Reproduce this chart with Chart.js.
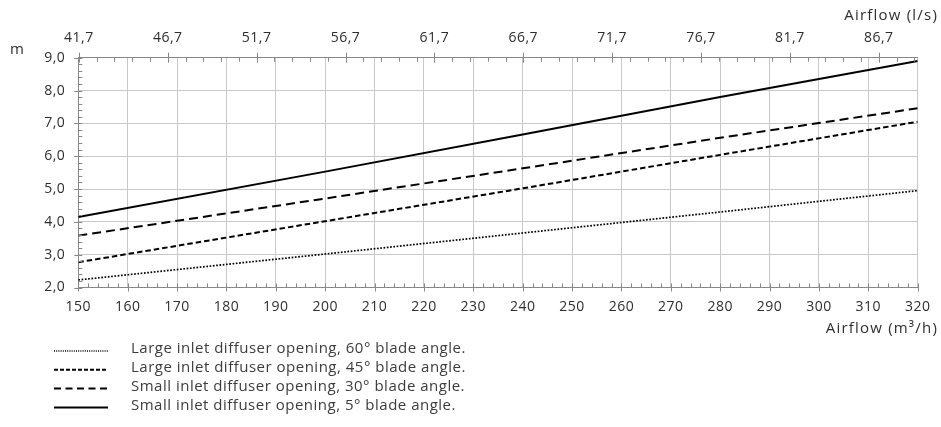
<!DOCTYPE html>
<html>
<head>
<meta charset="utf-8">
<title>Throw vs airflow</title>
<script src="https://cdn.jsdelivr.net/npm/chart.js@4.4.1/dist/chart.umd.min.js"></script>
<style>
  html, body { margin: 0; padding: 0; background: #ffffff; }
  #wrap { position: relative; width: 941px; height: 427px; }
</style>
</head>
<body>
<div id="wrap"><canvas id="c" width="941" height="427"></canvas></div>
<script>
// Airflow in m³/h (bottom axis) at which each curve is sampled
const airflowM3h = [150, 200, 240, 280, 320];

// Throw (m) for each diffuser setting
const large60 = [2.23, 3.02, 3.66, 4.30, 4.95];
const large45 = [2.77, 4.02, 5.02, 6.04, 7.05];
const small30 = [3.58, 4.71, 5.63, 6.56, 7.46];
const small5  = [4.15, 5.53, 6.66, 7.80, 8.90];

// Series names
const seriesNames = [
  'Large inlet diffuser opening, 60° blade angle.',
  'Large inlet diffuser opening, 45° blade angle.',
  'Small inlet diffuser opening, 30° blade angle.',
  'Small inlet diffuser opening, 5° blade angle.'
];

// Top axis tick labels (l/s)
const airflowLsTicks = [41.7, 46.7, 51.7, 56.7, 61.7, 66.7, 71.7, 76.7, 81.7, 86.7];

// Axis titles
const yTitle = 'm';
const topTitle = 'Airflow (l/s)';
const bottomTitle = 'Airflow (m³/h)';

const FONT = '"Open Sans", "DejaVu Sans", sans-serif';
const TEXT = '#2e2e2e';
const GRID = '#c8c8c8';
const AXIS = '#888888';

const toPoints = ys => airflowM3h.map((x, i) => ({ x: x, y: ys[i] }));

const styles = [
  { width: 1.7, dash: [1.7, 1.6], legendDash: [1, 1.2] },
  { width: 2,   dash: [5.5, 3],   legendDash: [4, 2] },
  { width: 2,   dash: [9, 5],     legendDash: [7, 4.5] },
  { width: 2,   dash: [],         legendDash: [] }
];

const seriesData = [large60, large45, small30, small5];

const datasets = seriesData.map((ys, i) => ({
  label: seriesNames[i],
  data: toPoints(ys),
  borderColor: '#000000',
  borderWidth: styles[i].width,
  borderDash: styles[i].dash,
  pointRadius: 0,
  tension: 0,
  fill: false
}));

const fmtComma = (v, d) => v.toFixed(d).replace('.', ',');

// Slightly tracked lettering for the tick labels
const tracking = {
  id: 'tracking',
  beforeDraw(chart) { chart.ctx.letterSpacing = '0.5px'; }
};

// Minor/major tick marks, axis titles and the line legend
const decorations = {
  id: 'decorations',
  afterDraw(chart) {
    const ctx = chart.ctx;
    const a = chart.chartArea;
    const xs = chart.scales.x, ys = chart.scales.y, xt = chart.scales.xTop;
    ctx.save();
    ctx.strokeStyle = AXIS;
    ctx.lineWidth = 1;
    ctx.beginPath();
    // bottom axis: minor every 2 m³/h, major every 10
    for (let v = xs.min; v <= xs.max + 1e-6; v += 2) {
      const px = Math.round(xs.getPixelForValue(v)) + 0.5;
      const major = Math.abs(v % 10) < 1e-6;
      ctx.moveTo(px, a.bottom + (major ? 4 : 0));
      ctx.lineTo(px, a.bottom - 4);
    }
    // left axis: minor every 0.2 m, major every 1
    for (let k = 0; k <= 35; k++) {
      const v = ys.min + k * 0.2;
      const py = Math.round(ys.getPixelForValue(v)) + 0.5;
      const major = k % 5 === 0;
      ctx.moveTo(a.left - (major ? 4 : 0), py);
      ctx.lineTo(a.left + 4, py);
    }
    // top axis: minor every 1 l/s, major at labelled ticks
    const first = airflowLsTicks[0];
    for (let v = first; v <= xt.max + 1e-6; v += 1) {
      const px = Math.round(xt.getPixelForValue(v)) + 0.5;
      const major = airflowLsTicks.some(t => Math.abs(t - v) < 1e-6);
      ctx.moveTo(px, a.top - (major ? 5 : 0));
      ctx.lineTo(px, a.top + (major ? 5 : 4));
    }
    ctx.stroke();

    // axis titles
    ctx.fillStyle = TEXT;
    ctx.font = '15px ' + FONT;
    ctx.letterSpacing = '1.2px';
    ctx.textBaseline = 'middle';
    ctx.textAlign = 'left';
    ctx.fillText(yTitle, 10, 50);
    ctx.textAlign = 'right';
    ctx.fillText(topTitle, 938, 16);
    ctx.fillText(bottomTitle, 938, 329);

    // legend
    ctx.font = '15px ' + FONT;
    ctx.letterSpacing = '0.5px';
    const rowY0 = 351, rowStep = 18.8;
    chart.data.datasets.forEach((ds, i) => {
      const y = rowY0 + i * rowStep;
      ctx.strokeStyle = '#000000';
      ctx.lineWidth = ds.borderWidth;
      ctx.setLineDash(styles[i].legendDash);
      ctx.beginPath();
      ctx.moveTo(54, y);
      ctx.lineTo(108, y);
      ctx.stroke();
      ctx.setLineDash([]);
      ctx.fillStyle = '#3c3c3c';
      ctx.textAlign = 'left';
      ctx.textBaseline = 'middle';
      ctx.fillText(ds.label, 131, y - 2);
    });
    ctx.restore();
  }
};

new Chart(document.getElementById('c'), {
  type: 'line',
  data: { datasets: datasets },
  options: {
    responsive: false,
    animation: false,
    events: [],
    layout: { padding: { left: 0, right: 23.3, top: 0, bottom: 99.5 } },
    plugins: { legend: { display: false }, tooltip: { enabled: false } },
    scales: {
      x: {
        type: 'linear',
        position: 'bottom',
        min: 150,
        max: 320,
        ticks: {
          stepSize: 10,
          color: TEXT,
          font: { family: FONT, size: 14 },
          padding: 11,
          maxRotation: 0
        },
        grid: { color: GRID, lineWidth: 1, drawTicks: false },
        border: { color: AXIS, width: 1 },
        afterFit(s) { s.height = 40; }
      },
      xTop: {
        type: 'linear',
        position: 'top',
        min: 150 / 3.6,
        max: 320 / 3.6,
        afterBuildTicks(s) { s.ticks = airflowLsTicks.map(v => ({ value: v })); },
        ticks: {
          color: TEXT,
          font: { family: FONT, size: 14 },
          padding: 11,
          maxRotation: 0,
          autoSkip: false,
          callback: v => fmtComma(v, 1)
        },
        grid: { display: false, drawTicks: false },
        border: { color: AXIS, width: 1 },
        afterFit(s) { s.height = 57.7; }
      },
      y: {
        type: 'linear',
        min: 2,
        max: 9,
        ticks: {
          stepSize: 1,
          color: TEXT,
          font: { family: FONT, size: 14 },
          padding: 13,
          callback: v => fmtComma(v, 1)
        },
        grid: { color: GRID, lineWidth: 1, drawTicks: false },
        border: { color: AXIS, width: 1 },
        afterFit(s) { s.width = 78.3; }
      }
    }
  },
  plugins: [tracking, decorations]
});
</script>
</body>
</html>
